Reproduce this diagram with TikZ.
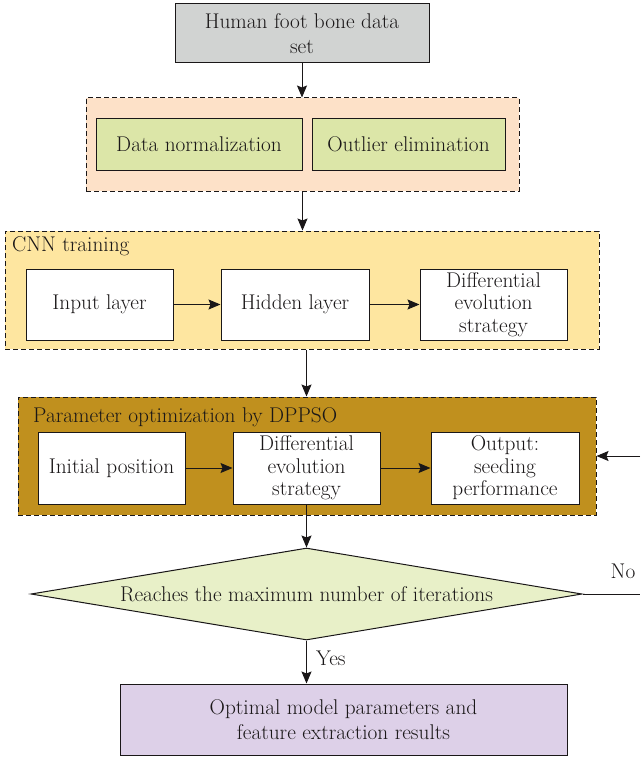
\documentclass[tikz,border=0pt]{standalone}
\usetikzlibrary{arrows.meta,shapes.geometric}
\definecolor{cgray}{HTML}{D1D3D2}
\definecolor{corange}{HTML}{FDE1C8}
\definecolor{cgreen}{HTML}{DCE6A8}
\definecolor{cyellow}{HTML}{FEE6A0}
\definecolor{cbrown}{HTML}{C0901E}
\definecolor{cdia}{HTML}{E8F0C8}
\definecolor{cpurple}{HTML}{DDD0E8}
\definecolor{ctext}{HTML}{1A1718}
\newcommand{\fs}{\fontsize{21.3}{22.5}\selectfont}
\begin{document}
\begin{tikzpicture}[x=1pt,y=-1pt,
  box/.style={draw=ctext, line width=1pt, align=center, inner sep=0pt, font=\fs, text=ctext},
  grp/.style={draw=ctext, line width=1pt, dash pattern=on 5pt off 3pt, inner sep=0pt},
  lbl/.style={font=\fs, text=ctext, inner sep=0pt},
  arr/.style={-{Stealth[length=12pt,width=10pt,inset=2pt]}, line width=1pt, draw=ctext},
  ln/.style={line width=1pt, draw=ctext}]
\useasboundingbox (0,0) rectangle (640,757);
% groups
\node[grp, fill=corange, minimum width=433pt, minimum height=93pt] (g1) at (302.5,144.5) {};
\node[grp, fill=cyellow, minimum width=594pt, minimum height=118pt] (g2) at (302,290) {};
\node[grp, fill=cbrown, minimum width=578pt, minimum height=118pt] (g3) at (307,456) {};
% nodes
\node[box, fill=cgray, minimum width=254pt, minimum height=59pt] (top) at (302,33.5) {Human foot bone data\\[2pt]set};
\node[box, fill=cgreen, minimum width=206pt, minimum height=51pt] (dn) at (199,144.5) {Data normalization};
\node[box, fill=cgreen, minimum width=193pt, minimum height=51pt] (oe) at (408.5,144.5) {Outlier elimination};
\node[lbl, anchor=west] (l2) at (12,246) {CNN training};
\node[box, fill=white, minimum width=147pt, minimum height=71pt] (in) at (99.5,304.5) {Input layer};
\node[box, fill=white, minimum width=148pt, minimum height=71pt] (hid) at (295,304.5) {Hidden layer};
\node[box, fill=white, minimum width=147pt, minimum height=71pt] (d1) at (493.5,304.5) {Differential\\evolution\\strategy};
\node[lbl, anchor=west] (l3) at (33,417) {Parameter optimization by DPPSO};
\node[box, fill=white, minimum width=147pt, minimum height=72pt] (ip) at (111.5,468) {Initial position};
\node[box, fill=white, minimum width=147pt, minimum height=72pt] (d2) at (306.5,468) {Differential\\evolution\\strategy};
\node[box, fill=white, minimum width=148pt, minimum height=72pt] (out) at (505,468) {Output:\\seeding\\performance};
\node[box, diamond, shape aspect=6, fill=cdia, minimum width=551pt, minimum height=92pt] (dia) at (306.5,594) {Reaches the maximum number of iterations};
\node[box, fill=cpurple, minimum width=447pt, minimum height=71pt] (res) at (343.5,719.5) {Optimal model parameters and\\[2pt]feature extraction results};
\node[lbl] (no) at (623,571) {No};
\node[lbl, anchor=west] (yes) at (316,658) {Yes};
\coordinate (noend) at (640,594);
\coordinate (inend) at (640,456);
% connectors
\draw[arr] (top.south) -- (top.south |- g1.north);
\draw[arr] (g1.south) -- (g1.south |- g2.north);
\draw[arr] (d2 |- g2.south) -- (d2 |- g3.north);
\draw[arr] (in) -- (hid);
\draw[arr] (hid) -- (d1);
\draw[arr] (ip) -- (d2);
\draw[arr] (d2) -- (out);
\draw[arr] (d2.south) -- (dia.north);
\draw[arr] (dia.south) -- (dia.south |- res.north);
\draw[ln] (dia.east) -- (noend);
\draw[arr] (inend) -- (g3.east |- inend);
\end{tikzpicture}
\end{document}
